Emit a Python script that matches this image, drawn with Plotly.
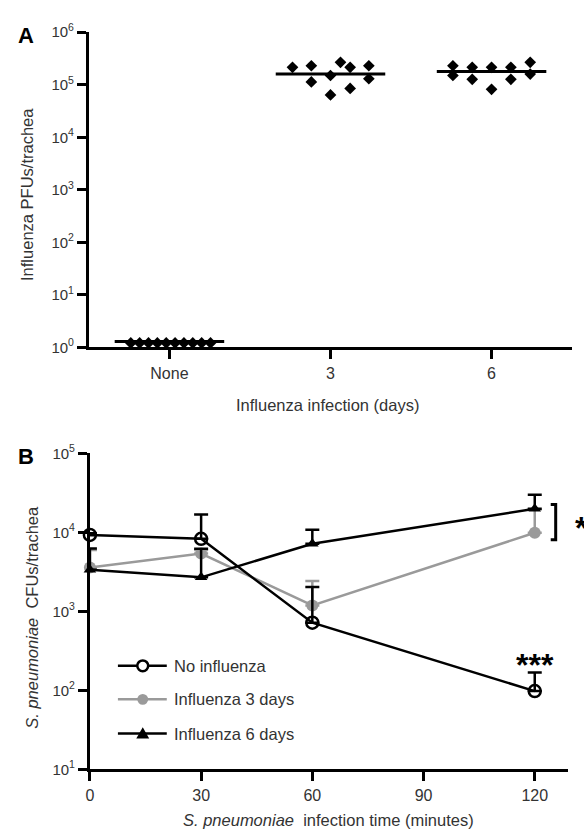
import plotly.graph_objects as go

W, H = 584, 838

# ---------------- Panel A data ----------------
a_categories = ["None", "3", "6"]
a_none_values = [1.22, 1.22, 1.22, 1.22, 1.22, 1.22, 1.22, 1.22, 1.22, 1.22]
a_day3_values = [2.15e5, 2.30e5, 1.13e5, 1.50e5, 6.4e4, 2.67e5, 2.15e5, 8.5e4, 2.30e5, 1.30e5]
a_day6_values = [2.30e5, 1.50e5, 2.15e5, 1.27e5, 2.15e5, 8.2e4, 2.15e5, 1.27e5, 2.67e5, 1.60e5]
a_center_values = [1.3, 1.6e5, 1.78e5]
a_ytick_values = [1, 10, 100, 1000, 1e4, 1e5, 1e6]
a_ytick_labels = ["10<sup>0</sup>", "10<sup>1</sup>", "10<sup>2</sup>", "10<sup>3</sup>",
                  "10<sup>4</sup>", "10<sup>5</sup>", "10<sup>6</sup>"]

# swarm layout offsets (horizontal spread of points within a category)
a_none_offsets = [-0.24, -0.185, -0.13, -0.075, -0.02, 0.035, 0.09, 0.145, 0.2, 0.255]
a_day3_offsets = [-0.236, -0.119, -0.119, 0.0, 0.0, 0.062, 0.122, 0.122, 0.238, 0.238]
a_day6_offsets = [-0.24, -0.24, -0.12, -0.12, 0.0, 0.0, 0.12, 0.12, 0.24, 0.24]

# ---------------- Panel B data ----------------
b_times = [0, 30, 60, 120]
b_no_flu = [9300, 8300, 720, 98]
b_no_flu_upper = [9800, 16900, 2040, 169]
b_flu3 = [3600, 5400, 1190, 9900]
b_flu3_upper = [6000, 6000, 2420, 19500]
b_flu6 = [3370, 2700, 7200, 19900]
b_flu6_upper = [6250, 6200, 10800, 29900]
b_series_names = ["No influenza", "Influenza 3 days", "Influenza 6 days"]
b_xticks = [0, 30, 60, 90, 120]
b_ytick_values = [10, 100, 1000, 1e4, 1e5]
b_ytick_labels = ["10<sup>1</sup>", "10<sup>2</sup>", "10<sup>3</sup>", "10<sup>4</sup>", "10<sup>5</sup>"]

FONT = "Liberation Sans, Arial, sans-serif"
GRAY = "#9a9a9a"
TICKCOL = "#333333"


def px(x):
    return x / W


def py(y):
    return 1 - y / H


fig = go.Figure()

# ---- Panel A traces ----
groups = [(0, a_none_values, a_none_offsets, 9),
          (1, a_day3_values, a_day3_offsets, 9),
          (2, a_day6_values, a_day6_offsets, 9)]
for ci, vals, offs, msize in groups:
    fig.add_trace(go.Scatter(
        x=[ci + o for o in offs], y=vals, mode="markers",
        marker=dict(symbol="diamond", size=msize, color="black"),
        xaxis="x", yaxis="y", showlegend=False, cliponaxis=True))

lx, ly = [], []
half = 0.34
for ci, v in enumerate(a_center_values):
    lx += [ci - half, ci + half, None]
    ly += [v, v, None]
fig.add_trace(go.Scatter(x=lx, y=ly, mode="lines", line=dict(color="black", width=3),
                         xaxis="x", yaxis="y", showlegend=False))

# ---- Panel B traces ----
def err(vals, upper):
    return [u - v for v, u in zip(vals, upper)]

fig.add_trace(go.Scatter(
    x=b_times, y=b_flu3, mode="lines+markers", name=b_series_names[1],
    line=dict(color=GRAY, width=2.5),
    marker=dict(symbol="circle", size=12, color=GRAY),
    error_y=dict(type="data", symmetric=False, array=err(b_flu3, b_flu3_upper),
                 arrayminus=[0, 0, 0, 0], color=GRAY, thickness=2.5, width=7),
    xaxis="x2", yaxis="y2", showlegend=False, cliponaxis=False))
fig.add_trace(go.Scatter(
    x=b_times, y=b_flu6, mode="lines+markers", name=b_series_names[2],
    line=dict(color="black", width=2.5),
    marker=dict(symbol="triangle-up", size=11, color="black"),
    error_y=dict(type="data", symmetric=False, array=err(b_flu6, b_flu6_upper),
                 arrayminus=[0, 0, 0, 0], color="black", thickness=2.5, width=7),
    xaxis="x2", yaxis="y2", showlegend=False, cliponaxis=False))
fig.add_trace(go.Scatter(
    x=b_times, y=b_no_flu, mode="lines+markers", name=b_series_names[0],
    line=dict(color="black", width=2.5),
    marker=dict(symbol="circle-open", size=12, color="black", line=dict(width=2.5)),
    error_y=dict(type="data", symmetric=False, array=err(b_no_flu, b_no_flu_upper),
                 arrayminus=[0, 0, 0, 0], color="black", thickness=2.5, width=7),
    xaxis="x2", yaxis="y2", showlegend=False, cliponaxis=False))

axis_common = dict(showline=True, linewidth=3, linecolor="black", showgrid=False,
                   zeroline=False, ticks="outside", ticklen=9, tickwidth=3,
                   tickcolor="black")
xfont = dict(family=FONT, size=16, color=TICKCOL)
yfont = dict(family=FONT, size=15, color=TICKCOL)

fig.update_layout(
    width=W, height=H, margin=dict(l=0, r=0, t=0, b=0),
    paper_bgcolor="white", plot_bgcolor="white",
    xaxis=dict(domain=[px(85.5), px(572)], range=[-0.5, 2.5], anchor="y",
               tickvals=[0, 1, 2], ticktext=a_categories, tickfont=xfont, **axis_common),
    yaxis=dict(domain=[py(344.3), py(21.7)], type="log", range=[0, 6], anchor="x",
               tickvals=a_ytick_values, ticktext=a_ytick_labels, tickfont=yfont, **axis_common),
    xaxis2=dict(domain=[px(86.5), px(568)], range=[0, 129], anchor="y2",
                tickvals=b_xticks, tickfont=xfont, **axis_common),
    yaxis2=dict(domain=[py(776), py(452.7)], type="log", range=[1, 5], anchor="x2",
                tickvals=b_ytick_values, ticktext=b_ytick_labels, tickfont=yfont, **axis_common),
)

ann = []
def text(x, y, s, size=16.5, bold=False, angle=0, xanchor="center", yanchor="middle", color=TICKCOL):
    if bold:
        s = "<b>" + s + "</b>"
    ann.append(dict(x=px(x), y=py(y), xref="paper", yref="paper", text=s, showarrow=False,
                    textangle=angle, xanchor=xanchor, yanchor=yanchor,
                    font=dict(family=FONT, size=size, color=color)))

text(22.5, 25, "A", size=22, bold=True, color="black")
text(21.7, 456, "B", size=22, bold=True, color="black")
text(22.4, 188, "Influenza PFUs/trachea", angle=-90)
text(326, 403, "Influenza infection (days)")
text(28, 620, "<i>S. pneumoniae</i>  CFUs/trachea", angle=-90)
text(327, 828, "<i>S. pneumoniae</i>  infection time (minutes)")
text(534.5, 669, "***", size=32, bold=True, color="black")
text(573, 529, "*", size=32, bold=True, color="black", xanchor="left")

# legend (manual)
leg_rows = [670, 704.3, 739.3]
shapes = []
for i, yy in enumerate(leg_rows):
    col = GRAY if i == 1 else "black"
    shapes.append(dict(type="line", xref="paper", yref="paper", x0=px(114.7), x1=px(163.9),
                       y0=py(yy), y1=py(yy), line=dict(color=col, width=2.5)))
    text(169.5, yy, b_series_names[i], xanchor="left")
r = 5.5
shapes.append(dict(type="circle", xref="paper", yref="paper",
                   x0=px(139.7 - r), x1=px(139.7 + r), y0=py(leg_rows[0] + r), y1=py(leg_rows[0] - r),
                   line=dict(color="black", width=2.5), fillcolor="white"))
shapes.append(dict(type="circle", xref="paper", yref="paper",
                   x0=px(139.7 - r), x1=px(139.7 + r), y0=py(leg_rows[1] + r), y1=py(leg_rows[1] - r),
                   line=dict(color=GRAY, width=0), fillcolor=GRAY))
ty = leg_rows[2]
shapes.append(dict(type="path", xref="paper", yref="paper",
                   path=f"M{px(139.7-6.5)},{py(ty+5)} L{px(139.7+6.5)},{py(ty+5)} L{px(139.7)},{py(ty-6.5)} Z",
                   line=dict(color="black", width=0), fillcolor="black"))
# significance bracket
shapes.append(dict(type="path", xref="paper", yref="paper",
                   path=f"M{px(550.5)},{py(505)} L{px(555.5)},{py(505)} L{px(555.5)},{py(541)} L{px(550.5)},{py(541)}",
                   line=dict(color="black", width=3)))

fig.update_layout(annotations=ann, shapes=shapes)
fig.write_html("out.html", config={"displayModeBar": False},
               post_script="document.body.style.margin='0px';")
